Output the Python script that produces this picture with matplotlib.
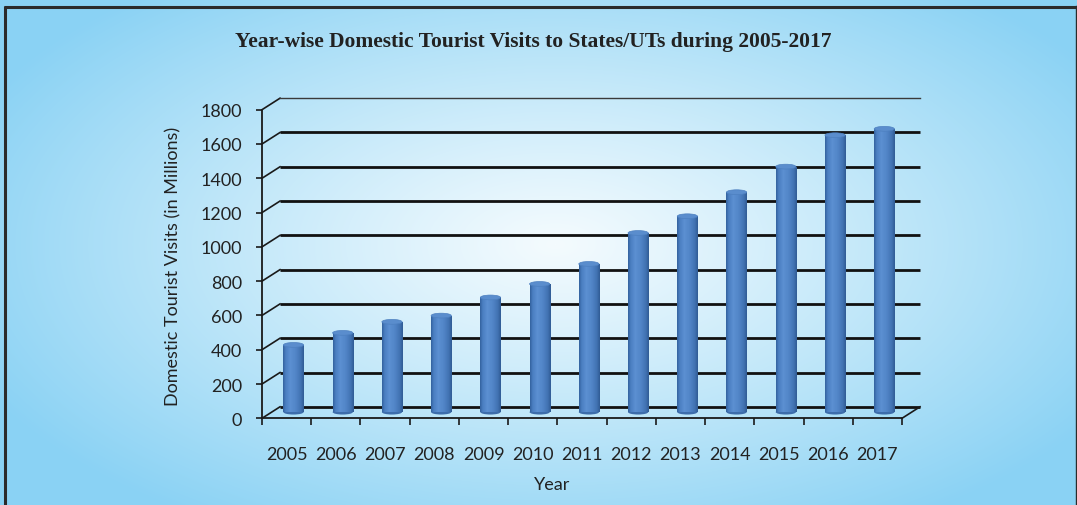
import numpy as np
import matplotlib
matplotlib.use("Agg")
import matplotlib.pyplot as plt
from matplotlib.patches import Ellipse
from matplotlib.colors import LinearSegmentedColormap

# Domestic tourist visits to States/UTs (millions)
years = ["2005", "2006", "2007", "2008", "2009", "2010", "2011",
         "2012", "2013", "2014", "2015", "2016", "2017"]
visits = [392.0, 462.3, 526.7, 563.0, 668.8, 747.7, 864.5,
          1045.0, 1142.5, 1282.8, 1432.0, 1615.4, 1652.5]
y_ticks = [0, 200, 400, 600, 800, 1000, 1200, 1400, 1600, 1800]

title = "Year-wise Domestic Tourist Visits to States/UTs during 2005-2017"
x_label = "Year"
y_label = "Domestic Tourist Visits (in Millions)"

W, H = 1077, 506
fig = plt.figure(figsize=(W / 100, H / 100), dpi=100)

# ---- radial blue background and frame ----
bg = fig.add_axes([0, 0, 1, 1])
bg.set_axis_off()
yy, xx = np.mgrid[0:H, 0:W]
r = np.sqrt(((xx - 555) / 640.0) ** 2 + ((yy - 245) / 330.0) ** 2)
r = np.clip(r, 0, 1) ** 1.1
c_in = np.array([0xf4, 0xfb, 0xfe]) / 255.0
c_out = np.array([0x8a, 0xd2, 0xf4]) / 255.0
img = c_in + (c_out - c_in) * r[..., None]
bg.imshow(img, extent=[0, W, H, 0], aspect="auto", interpolation="bilinear")
bg.plot([4, W], [7.5, 7.5], color="#2b2b2b", lw=2.2, solid_capstyle="butt")
bg.plot([5.2, 5.2], [6.5, H], color="#2b2b2b", lw=2.2, solid_capstyle="butt")
bg.plot([1075.5, 1075.5], [7, H], color="#2b2b2b", lw=1.0)
bg.set_xlim(0, W)
bg.set_ylim(H, 0)

fig.text(533 / W, 1 - 42 / H, title, ha="center", va="center",
         family="Liberation Serif", weight="bold", fontsize=15.5, color="#222222")
fig.text(173 / W, 1 - 266 / H, y_label, rotation=90, ha="center", va="center",
         family="Lato", fontsize=13, color="#222222")
fig.text(552 / W, 1 - 485 / H, x_label, ha="center", va="center",
         family="Lato", fontsize=13, color="#222222")

# ---- plot area (front plane) ----
n = len(years)
ax = fig.add_axes([262 / W, 1 - 419.3 / H, 640 / W, 308.6 / H])
ax.patch.set_alpha(0)

# depth offset of the back wall, in data units
DX = 18 / (640 / n)
DY = 11.5 / (308.6 / 1800)

axis_col = "#1a1a1a"
for v in y_ticks:
    ax.plot([0, DX], [v, v + DY], color=axis_col, lw=1.2, zorder=2, clip_on=False)
    if v == y_ticks[-1]:
        ax.plot([DX, n + DX], [v + DY] * 2, color="#3a3a3a", lw=1.0,
                zorder=2, clip_on=False)
    else:
        ax.plot([DX, n + DX], [v + DY] * 2, color="#111111", lw=2.0,
                zorder=2, clip_on=False, solid_capstyle="butt")
ax.plot([n, n + DX], [0, DY], color=axis_col, lw=1.2, zorder=2, clip_on=False)

# ---- cylinder bars ----
bar_w = 0.41
x_shift = 0.14
base = 36
xc = np.arange(n) + 0.5 + x_shift
bars = ax.bar(xc, visits, width=bar_w, bottom=base, color="#4a7ebf",
              edgecolor="none", zorder=3)

cyl = LinearSegmentedColormap.from_list("cyl", [
    (0.00, "#33629e"), (0.12, "#4a7ec1"), (0.35, "#5c90d2"),
    (0.60, "#5286c8"), (0.85, "#4273b3"), (1.00, "#305c95")])
grad = np.linspace(0, 1, 64)[None, :]
cap_h = 28
for x, v, b in zip(xc, visits, bars):
    ax.add_patch(Ellipse((x, base), bar_w, cap_h, facecolor="#3d6dab",
                         edgecolor="none", zorder=2.9))
    im = ax.imshow(grad, cmap=cyl, aspect="auto", interpolation="bilinear",
                   extent=[x - bar_w / 2, x + bar_w / 2, base, base + v],
                   zorder=3.1)
    im.set_clip_path(b)
    ax.add_patch(Ellipse((x, base + v), bar_w, cap_h, facecolor="#5a8dcd",
                         edgecolor="#4d80c0", lw=0.5, zorder=3.2))

# ---- axes, ticks and labels ----
for s in ("top", "right"):
    ax.spines[s].set_visible(False)
for s in ("left", "bottom"):
    ax.spines[s].set_color(axis_col)
    ax.spines[s].set_linewidth(1.3)
    ax.spines[s].set_zorder(4)

ax.set_xlim(0, n)
ax.set_ylim(0, 1800)
ax.set_yticks(y_ticks)
ax.set_yticklabels([str(t) for t in y_ticks], family="Lato", fontsize=13,
                   color="#222222")
ax.tick_params(axis="y", direction="out", length=4.5, width=1.2,
               color=axis_col, pad=10)
ax.set_xticks(np.arange(n + 1))
ax.set_xticklabels([])
ax.tick_params(axis="x", which="major", direction="out", length=5,
               width=1.2, color=axis_col)
ax.set_xticks(np.arange(n) + 0.5, minor=True)
ax.set_xticklabels(years, minor=True, family="Lato", fontsize=13,
                   color="#222222")
ax.tick_params(axis="x", which="minor", length=0, pad=20)

fig.savefig("out.png", dpi=100)
